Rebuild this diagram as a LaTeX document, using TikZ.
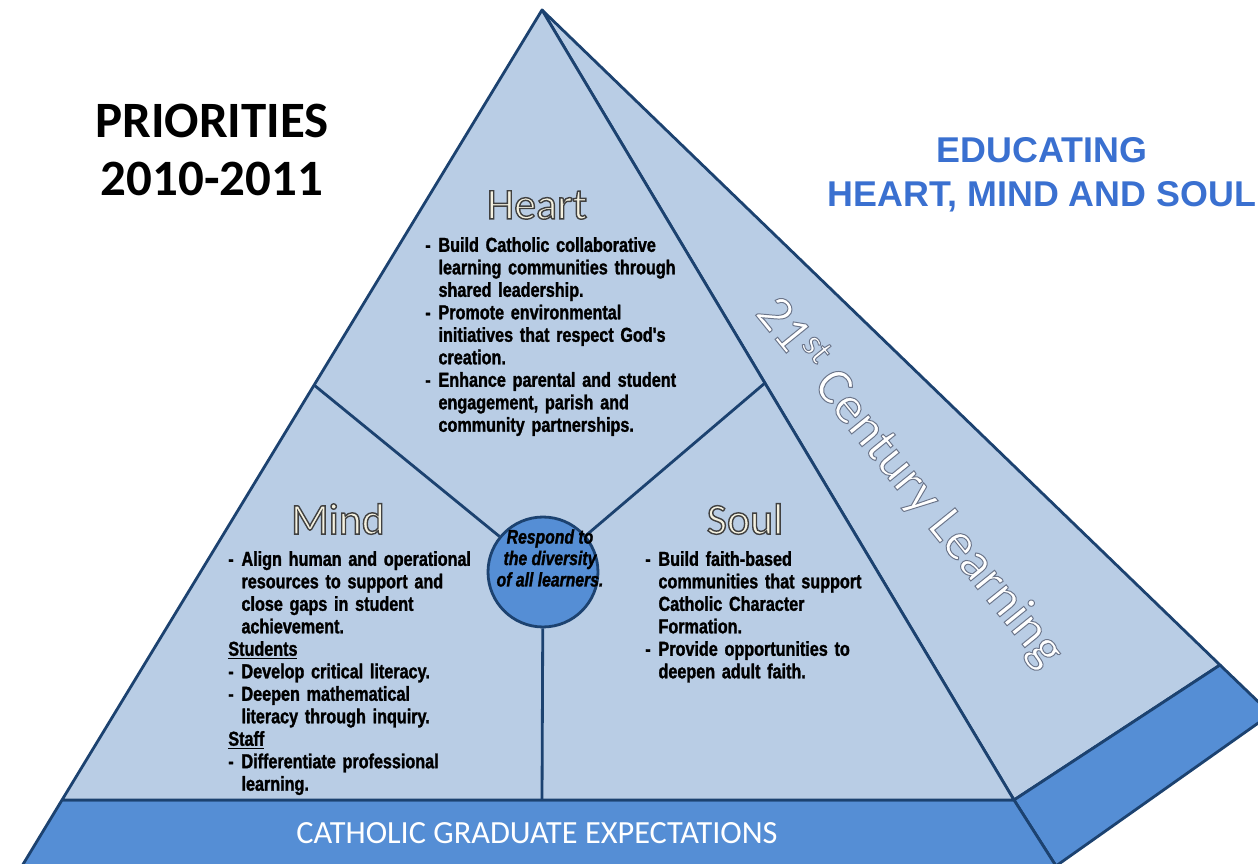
\documentclass[tikz,border=0pt]{standalone}
\usepackage{fontspec}
\setmainfont{Liberation Sans}
\newfontfamily\calfont{Carlito}
\newfontfamily\narrowfont[FakeStretch=0.8, FakeBold=1.4,
  ItalicFont={Liberation Sans Bold Italic}]{Liberation Sans Bold}
\usetikzlibrary{positioning,calc}
\definecolor{facelight}{RGB}{185,205,229}
\definecolor{bandblue}{RGB}{85,142,213}
\definecolor{edgeblue}{RGB}{28,66,112}
\definecolor{titleblue}{RGB}{58,112,208}
\definecolor{cream}{RGB}{244,241,224}
% hanging dash items for the three blocks of notes
\newlength{\dashindent}
\setlength{\dashindent}{0.75em}
\newcommand{\dashitem}[1]{\par\hangindent=\dashindent\hangafter=1\noindent\makebox[\dashindent][l]{-}#1\par}
% filled and stroked glyphs (pdf text render mode 2)
\newcommand{\outlined}[3]{{\color{#1}\special{pdf:literal direct #2 2 Tr}#3\special{pdf:literal direct 0 Tr}}}

\begin{document}
\begin{tikzpicture}[x=0.02cm, y=-0.02cm,
    face/.style={fill=facelight, draw=edgeblue, line width=1.6pt, line join=round},
    band/.style={fill=bandblue, draw=edgeblue, line width=1.6pt, line join=round},
    divider/.style={draw=edgeblue, line width=1.6pt},
    heading/.style={font=\calfont\fontsize{25}{30}\selectfont, inner sep=0pt},
    notes/.style={font=\narrowfont\fontsize{11.5}{12.8}\selectfont,
        text width=6cm, align=left, inner sep=0pt, anchor=north west}
]
\useasboundingbox (0,0) rectangle (1258,864);
\clip (0,0) rectangle (1258,864);

% corners of the pyramid
\coordinate (apex) at (542,10);
\coordinate (frontL) at (62,800);
\coordinate (frontR) at (1014,800);
\coordinate (baseL) at (22,866);
\coordinate (baseR) at (1056,866);
\coordinate (sideR) at (1220,665);
\coordinate (sideB) at (1271,714);
\coordinate (splitL) at (314,385);
\coordinate (splitR) at (765,383);
\coordinate (splitB) at (542,800);

% side face, base band, front face
\draw[face] (apex) -- (frontR) -- (sideR) -- cycle;
\draw[band] (frontR) -- (baseR) -- (sideB) -- (sideR) -- cycle;
\draw[band] (frontL) -- (baseL) -- (baseR) -- (frontR) -- cycle;
\draw[face] (apex) -- (frontL) -- (frontR) -- cycle;

% centre hub and the three dividers
\node[circle, minimum size=2.2cm, fill=bandblue, draw=edgeblue, line width=1.6pt] (hub) at (543,572) {};
\draw[divider] (splitL) -- (hub);
\draw[divider] (splitR) -- (hub);
\draw[divider] (hub) -- (splitB);

\node[font=\calfont\bfseries\fontsize{29}{33}\selectfont, align=center] (priorities) at (212,150) {PRIORITIES\\2010-2011};
\node[font=\bfseries\fontsize{20.4}{25}\selectfont, text=titleblue, align=center] (motto) at (1042,175) {EDUCATING\\HEART, MIND AND SOUL};

\node[heading] (heart) at (537,205) {\outlined{cream}{0.25 0.25 0.25 RG 0.8 w}{Heart}};
\node[heading] (mind) at (338,519) {\outlined{cream}{0.25 0.25 0.25 RG 0.8 w}{Mind}};
\node[heading] (soul) at (745,519) {\outlined{cream}{0.25 0.25 0.25 RG 0.8 w}{Soul}};

\node[notes] (heartnotes) at (425,229) {%
  \dashitem{Build Catholic collaborative\newline learning communities through\newline shared leadership.}%
  \dashitem{Promote environmental\newline initiatives that respect God's\newline creation.}%
  \dashitem{Enhance parental and student\newline engagement, parish and\newline community partnerships.}};
\node[notes] (mindnotes) at (228,543) {%
  \dashitem{Align human and operational\newline resources to support and\newline close gaps in student\newline achievement.}%
  \noindent\underline{Students}\par
  \dashitem{Develop critical literacy.}%
  \dashitem{Deepen mathematical\newline literacy through inquiry.}%
  \noindent\underline{Staff}\par
  \dashitem{Differentiate professional\newline learning.}};
\node[notes] (soulnotes) at (645,543) {%
  \dashitem{Build faith-based\newline communities that support\newline Catholic Character\newline Formation.}%
  \dashitem{Provide opportunities to\newline deepen adult faith.}};

\node[font=\narrowfont\itshape\fontsize{11.2}{12.2}\selectfont, align=center] (hubtext) at (550,558) {Respond to\\the diversity\\of all learners.};

\node[font=\calfont\fontsize{18.4}{20}\selectfont, text=white] (graduate) at (537,833) {CATHOLIC GRADUATE EXPECTATIONS};
\node[font=\calfont\fontsize{30}{32}\selectfont, rotate=-51] (century) at (910,482)
  {\outlined{white}{0.42 0.46 0.54 RG 0.55 w}{21\textsuperscript{st} Century Learning}};
\end{tikzpicture}
\end{document}
